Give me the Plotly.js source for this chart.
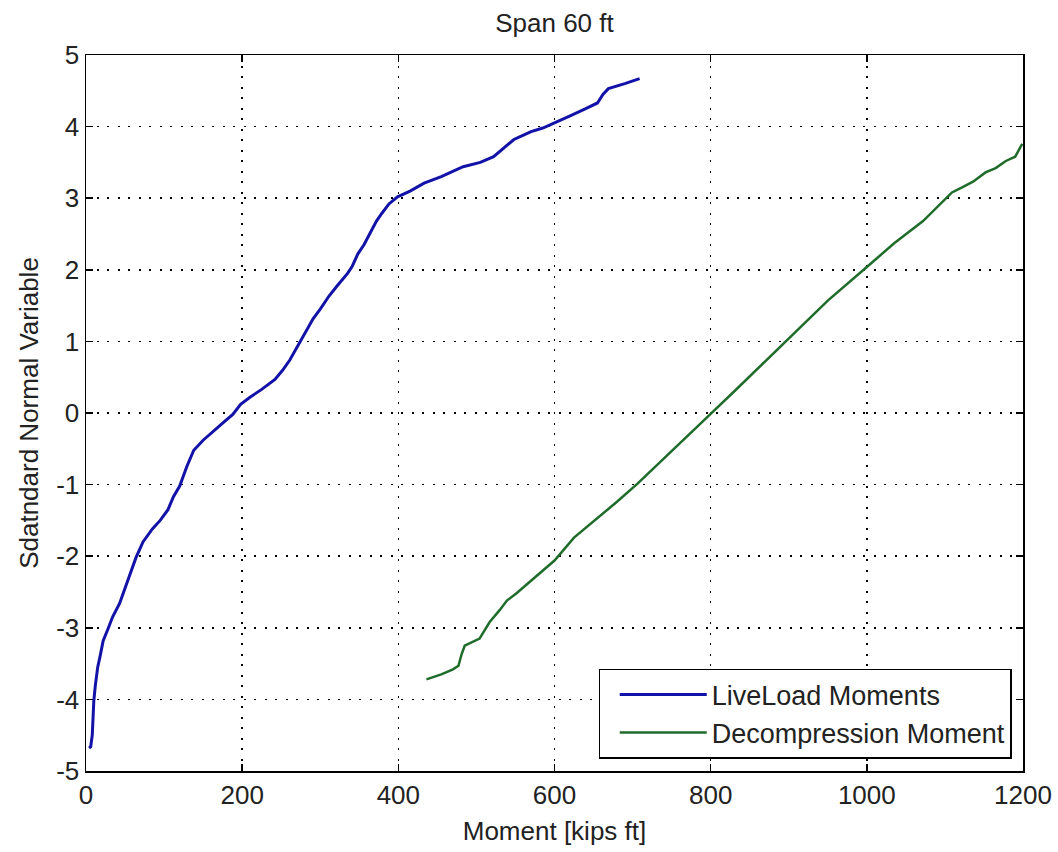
<!DOCTYPE html>
<html>
<head>
<meta charset="utf-8">
<script src="https://cdn.plot.ly/plotly-3.0.1.min.js"></script>
<style>html,body{margin:0;padding:0;background:#fff;}#chart{width:1058px;height:852px;}</style>
</head>
<body>
<div id="chart"></div>
<script>
const liveX = [4, 6, 8, 10, 12, 15, 18, 22, 28, 34, 43, 50, 56, 64, 73, 85, 95, 105, 112, 120, 129, 138, 150, 162, 175, 188, 198, 210, 225, 242, 252, 261, 268, 276, 284, 291, 300, 311, 322, 335, 341, 348, 356, 364, 372, 379, 388, 399, 415, 433, 455, 483, 505, 522, 535, 548, 556, 570, 585, 600, 620, 640, 655, 662, 669, 690, 709];
const liveY = [-4.68, -4.66, -4.50, -4.02, -3.80, -3.55, -3.40, -3.18, -3.02, -2.85, -2.66, -2.45, -2.24, -2.02, -1.80, -1.62, -1.50, -1.35, -1.17, -1.02, -0.75, -0.52, -0.38, -0.26, -0.14, -0.02, 0.12, 0.22, 0.33, 0.47, 0.60, 0.74, 0.88, 1.02, 1.18, 1.32, 1.45, 1.63, 1.78, 1.95, 2.05, 2.22, 2.35, 2.51, 2.68, 2.79, 2.92, 3.02, 3.10, 3.21, 3.30, 3.44, 3.50, 3.58, 3.70, 3.82, 3.86, 3.93, 3.98, 4.05, 4.15, 4.25, 4.33, 4.45, 4.53, 4.60, 4.67];
const decX = [436, 455, 470, 477, 481, 485, 504, 510, 517, 530, 539, 551, 575, 600, 625, 653, 680, 706, 743, 770, 802, 830, 860, 902, 950, 1000, 1035, 1072, 1093, 1109, 1122, 1136, 1152, 1165, 1178, 1190, 1199];
const decY = [-3.72, -3.65, -3.58, -3.53, -3.37, -3.25, -3.15, -3.05, -2.92, -2.75, -2.62, -2.52, -2.30, -2.06, -1.74, -1.49, -1.24, -0.99, -0.60, -0.32, 0.01, 0.30, 0.62, 1.07, 1.57, 2.04, 2.37, 2.68, 2.90, 3.08, 3.15, 3.23, 3.36, 3.42, 3.52, 3.58, 3.76];
const seriesNames = ['LiveLoad Moments', 'Decompression Moment'];
const xTicks = [0, 200, 400, 600, 800, 1000, 1200];
const yTicks = [-5, -4, -3, -2, -1, 0, 1, 2, 3, 4, 5];

const FONT = 'Liberation Sans, Arial, sans-serif';
const TXT = '#222';
const traces = [
  {x: liveX, y: liveY, name: seriesNames[0], mode: 'lines', line: {color: '#1212a8', width: 3}},
  {x: decX, y: decY, name: seriesNames[1], mode: 'lines', line: {color: '#1f6b2a', width: 2.5}}
];
const axisCommon = {
  showline: true, mirror: 'ticks', linecolor: '#000', linewidth: 1.5,
  ticks: 'inside', ticklen: 7, tickcolor: '#000', tickwidth: 1.5,
  showgrid: true, gridcolor: '#000', griddash: '2px,8.5px', gridwidth: 1.5,
  zeroline: false, tickfont: {family: FONT, size: 26, color: TXT}
};
const layout = {
  width: 1058, height: 852,
  margin: {l: 86, r: 35, t: 55, b: 81},
  paper_bgcolor: '#fff', plot_bgcolor: '#fff',
  font: {family: FONT, size: 26, color: TXT},
  title: {text: 'Span 60 ft', x: 0.5, xref: 'paper', y: 1 - 23/852, yref: 'container', yanchor: 'middle', font: {family: FONT, size: 26, color: TXT}},
  xaxis: Object.assign({}, axisCommon, {range: [0, 1200], tickvals: xTicks, ticktext: xTicks.map(String),
    title: {text: 'Moment [kips ft]', standoff: 13, font: {family: FONT, size: 26, color: TXT}}}),
  yaxis: Object.assign({}, axisCommon, {range: [-5, 5], tickvals: yTicks, ticktext: yTicks.map(String),
    title: {text: 'Sdatndard Normal Variable', standoff: 10, font: {family: FONT, size: 26, color: TXT}}}),
  showlegend: true,
  legend: {x: 0.988, y: 0.017, xanchor: 'right', yanchor: 'bottom', bgcolor: '#fff', bordercolor: '#000', borderwidth: 1.5,
    font: {family: FONT, size: 27, color: TXT}, itemwidth: 87, tracegroupgap: 0,
    title: {text: '\u2002', side: 'left', font: {family: FONT, size: 9, color: TXT}}}
};
Plotly.newPlot('chart', traces, layout, {displayModeBar: false, staticPlot: true});
</script>
</body>
</html>
